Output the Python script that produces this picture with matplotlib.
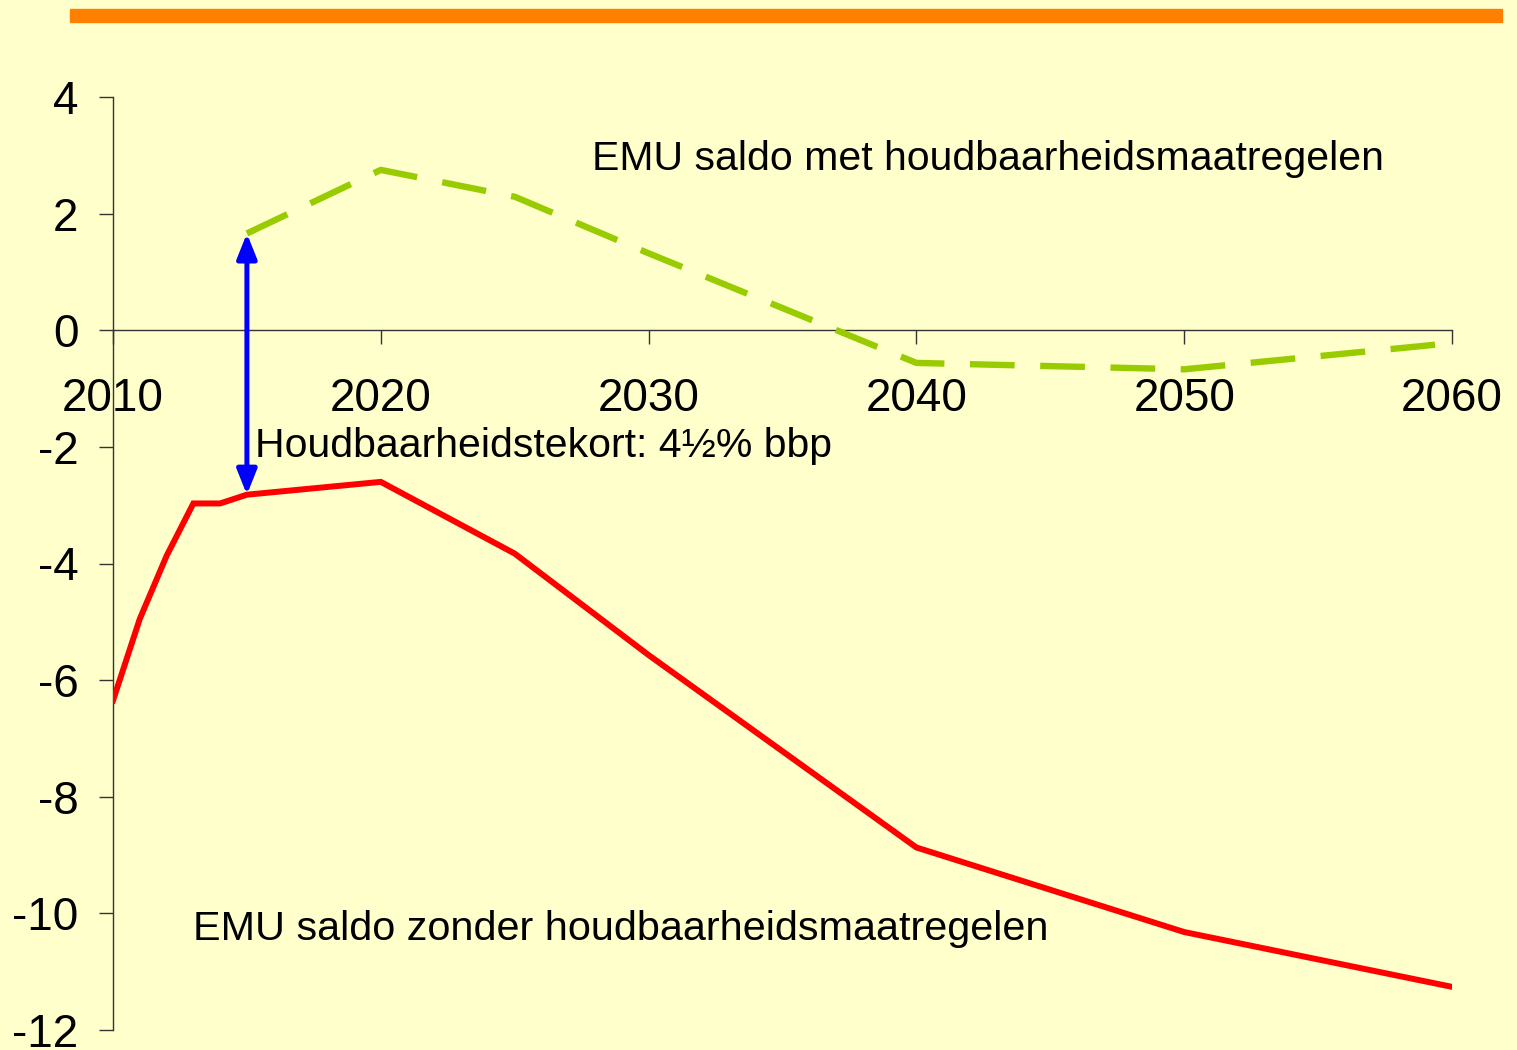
import matplotlib
matplotlib.use("Agg")
from matplotlib import pyplot as plt
from matplotlib.patches import Rectangle

plt.rcParams['font.family'] = ['Liberation Sans', 'DejaVu Sans']

# EMU saldo zonder maatregelen (% bbp)
redYears = [2010, 2011, 2012, 2013, 2014, 2015, 2020, 2025, 2030, 2040, 2050, 2060]
redVals = [-6.35, -4.95, -3.87, -2.97, -2.97, -2.82, -2.6, -3.83, -5.57, -8.87, -10.32, -11.26]

# EMU saldo met maatregelen
greenYears = [2015, 2020, 2025, 2030, 2035, 2040, 2050, 2060]
greenVals = [1.66, 2.75, 2.29, 1.32, 0.38, -0.56, -0.67, -0.22]

gapYear, gapTop, gapBottom = 2015, 1.66, -2.82
xTicks = [2010, 2020, 2030, 2040, 2050, 2060]
yTicks = [4, 2, 0, -2, -4, -6, -8, -10, -12]

bg = '#FFFFCC'
fig = plt.figure(figsize=(15.17, 10.5), dpi=100, facecolor=bg)
ax = fig.add_axes([113/1517, 20/1050, (1452-113)/1517, (1030-97)/1050])
ax.set_facecolor(bg)

# orange bar at the top
fig.patches.append(Rectangle((70/1517, 1-22/1050), (1502-70)/1517, 13/1050,
                             transform=fig.transFigure, color='#FF8000', zorder=0))

ax.plot(redYears, redVals, color='#FF0000', lw=4.3, solid_joinstyle='miter', zorder=3)
ax.plot(greenYears, greenVals, color='#99CC00', lw=4.6, dashes=(7, 4), zorder=3)

ax.annotate('', xy=(gapYear, gapTop), xytext=(gapYear, gapBottom),
            arrowprops=dict(arrowstyle='<|-|>,head_length=1.5,head_width=0.6',
                            color='#0000FF', lw=3.6, shrinkA=0, shrinkB=0), zorder=4)

ax.text(2027.9, 2.94, 'EMU saldo met houdbaarheidsmaatregelen', fontsize=29.5, va='center', ha='left')
ax.text(2015.3, -1.98, 'Houdbaarheidstekort: 4½% bbp', fontsize=29.5, va='center', ha='left')
ax.text(2013.0, -10.27, 'EMU saldo zonder houdbaarheidsmaatregelen', fontsize=29.8, va='center', ha='left')

ax.set_xlim(2010, 2060)
ax.set_ylim(-12, 4)
ax.spines['top'].set_visible(False)
ax.spines['right'].set_visible(False)
ax.spines['bottom'].set_position(('data', 0))
for s in ['left', 'bottom']:
    ax.spines[s].set_color('#333333')
    ax.spines[s].set_linewidth(1.0)
ax.set_xticks(xTicks)
ax.set_yticks(yTicks)
ax.set_yticklabels([str(v) for v in yTicks])
ax.tick_params(axis='x', direction='out', length=10, width=1.0, pad=24, labelsize=33, colors='#333333', labelcolor='black')
ax.tick_params(axis='y', direction='out', length=10, width=1.0, pad=15, labelsize=33, colors='#333333', labelcolor='black')

fig.savefig('out.png', dpi=100, facecolor=bg)
